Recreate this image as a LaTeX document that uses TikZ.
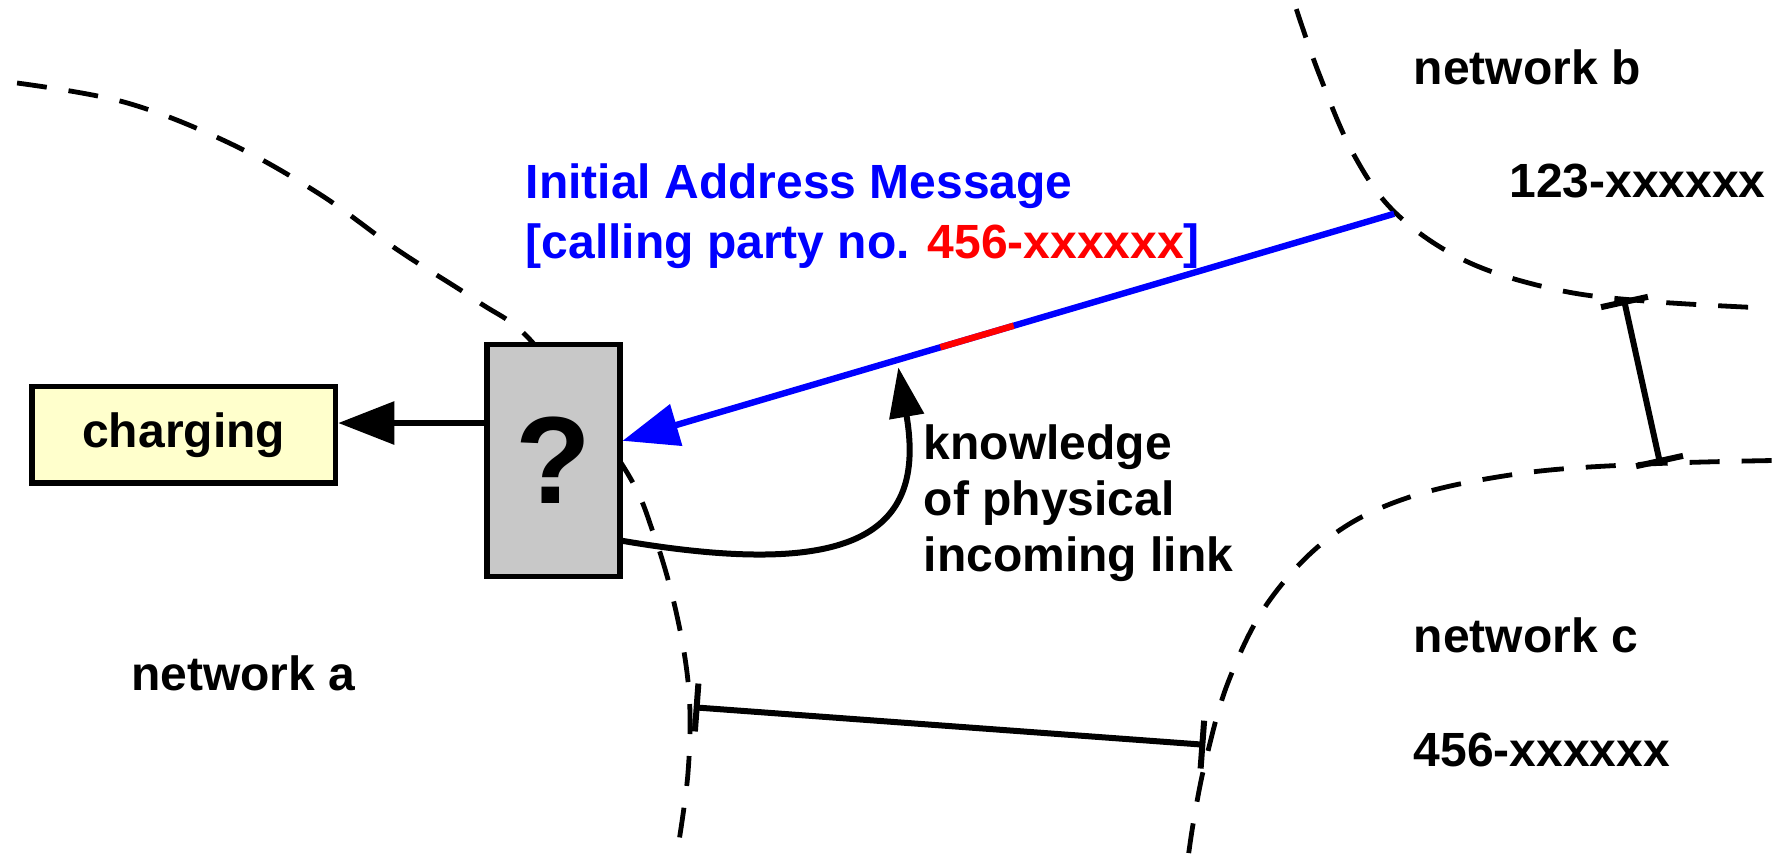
\documentclass[tikz,border=0pt]{standalone}
\usepackage{fontspec}
\setmainfont{Liberation Sans}
\usetikzlibrary{arrows.meta,calc,positioning}
\definecolor{chgyellow}{HTML}{FFFFCC}
\definecolor{boxgray}{HTML}{C8C8C8}

\begin{document}
\begin{tikzpicture}[x=0.5685pt,y=-0.5685pt,
	font=\fontsize{24}{28}\selectfont\bfseries,
	border/.style={line width=2.4pt, dash pattern=on 15pt off 11pt},
	box/.style={draw, line width=2.8pt, inner sep=0pt},
	link/.style={line width=3pt, {Bar[width=24pt]}-{Bar[width=24pt]}},
	lbl/.style={anchor=base west, inner sep=0pt, align=left},
	tip/.style={-{Triangle[length=28pt,width=21pt]}}]
	\useasboundingbox (0,0) rectangle (1568,753);

	\draw[border] plot[smooth, tension=0.6] coordinates {(15,73) (110,90) (200,125) (280,170) (350,220) (420,265) (470,303) (548,410) (575,470) (595,540) (606,610) (605,680) (595,753)};
	\draw[border] plot[smooth, tension=0.6] coordinates {(1140,8) (1160,65) (1190,135) (1228,188) (1290,230) (1370,255) (1450,265) (1555,271)};
	\draw[border] plot[smooth, tension=0.6] coordinates {(1558,405) (1450,408) (1340,416) (1240,437) (1170,472) (1115,530) (1080,600) (1060,670) (1050,720) (1045,753)};

	\draw[link] (1428,263) -- (1460,408);
	\draw[link] (610,622) -- (1060,655);

	\node[box, fill=chgyellow, minimum width=151.8pt, minimum height=48.3pt] (chg) at (161.5,382.5) {charging};
	\node[box, fill=boxgray, minimum width=66.5pt, minimum height=116pt, font=\fontsize{62}{62}\selectfont\bfseries] (qbox) at (486.5,405) {?};

	\coordinate (bstart) at (1226,188);
	\coordinate (ktip) at (790,323);
	\draw[blue, line width=3.2pt, tip] (bstart) -- ($(qbox.north east)!0.417!(qbox.south east)$) coordinate (bend);
	\draw[red, line width=3.2pt] ($(bstart)!0.493!(bend)$) -- ($(bstart)!0.588!(bend)$);
	\draw[line width=3pt, tip] (qbox.west |- 0,372) -- (chg.east |- 0,372);
	\draw[line width=3pt, -{Triangle[length=25pt,width=17pt]}] ($(qbox.north east)!0.838!(qbox.south east)$) .. controls (750,510) and (815,470) .. (ktip);

	\node[lbl, blue, font=\fontsize{24}{30}\selectfont\bfseries] (iam) at (462,227) {Initial Address Message\\{[}calling party no. \textcolor{red}{456-xxxxxx}]};
	\node[lbl] (know) at (812,503) {knowledge\\of physical\\incoming link};
	\node[lbl] (neta) at (115,607) {network a};
	\node[lbl] (netb) at (1243,74) {network b};
	\node[lbl] (numb) at (1327,174) {123-xxxxxx};
	\node[lbl] (netc) at (1243,574) {network c};
	\node[lbl] (numc) at (1243,674) {456-xxxxxx};
\end{tikzpicture}
\end{document}
